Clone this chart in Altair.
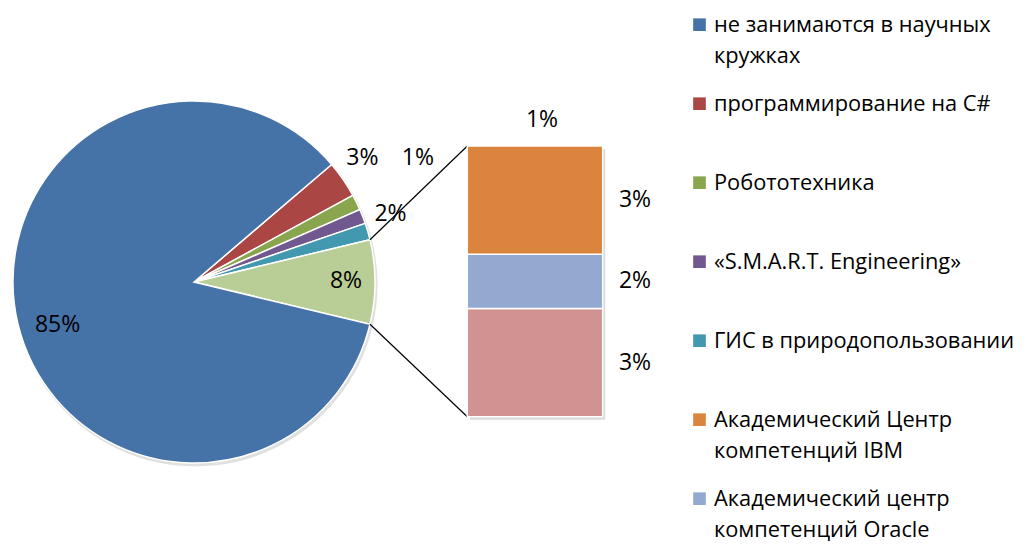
import math
import altair as alt
import pandas as pd

# ---------------- data ----------------
pie_keys = ["csharp", "robo", "smart", "gis", "other", "none"]
pie_values = [3.3, 1.4, 1.3, 1.5, 7.5, 85.0]
pie_labels = ["3%", "1%", "1%", "2%", "8%", "85%"]

bar_keys = ["pink", "oracle", "ibm"]          # bottom -> top
bar_values = [3.0, 1.5, 3.0]
bar_labels = ["3%", "2%", "3%"]

legend_keys = ["none", "csharp", "robo", "smart", "gis", "ibm", "oracle"]
legend_names = [
    "не занимаются в научных\nкружках",
    "программирование на C#",
    "Робототехника",
    "«S.M.A.R.T. Engineering»",
    "ГИС в природопользовании",
    "Академический Центр\nкомпетенций IBM",
    "Академический центр\nкомпетенций Oracle",
]

color_domain = ["none", "csharp", "robo", "smart", "gis", "ibm", "oracle", "pink", "other"]
color_range = ["#4572A7", "#AA4643", "#89A54E", "#71588F", "#4198AF",
               "#DB843D", "#93A9CF", "#D19392", "#B9CD96"]

# ---------------- layout (styling only) ----------------
W, H = 1012, 534
CX, CY, R = 186, 274, 181
label_radius = [209, 256, 0, 208, 152, 143]
label_nudge = [-1.8, -2.9, 0, -2.9, -0.5, -4.0]
BAR_X0, BAR_X1 = 459.3, 594.7
BAR_PX = [408.7, 138.0]
FONT = "Open Sans"
LABEL_SIZE = 23
LEGEND_SIZE = 21.8
LEG_STEP = 79

color = alt.Color("key:N", scale=alt.Scale(domain=color_domain, range=color_range), legend=None)

# pie rotation so that the "other" slice faces the bar
total = sum(pie_values)
oi = pie_keys.index("other")
before = sum(pie_values[:oi])
a0_deg = 90 - (before + pie_values[oi] / 2) / total * 360
a0 = math.radians(a0_deg)

pie_df = pd.DataFrame({"key": pie_keys, "value": pie_values, "ord": list(range(len(pie_keys)))})
theta_scale = alt.Scale(range=[a0, a0 + 2 * math.pi])

pie_shadow = alt.Chart(pie_df).mark_arc(outerRadius=R + 1, color="#000000", opacity=0.12).encode(
    theta=alt.Theta("value:Q", stack=True, scale=theta_scale),
    order=alt.Order("ord:Q"),
    x=alt.value(CX + 1.5),
    y=alt.value(CY + 2.5),
)

pie = alt.Chart(pie_df).mark_arc(outerRadius=R, stroke="white", strokeWidth=1.5).encode(
    theta=alt.Theta("value:Q", stack=True, scale=theta_scale),
    order=alt.Order("ord:Q"),
    color=color,
    x=alt.value(CX),
    y=alt.value(CY),
)

# pie labels positioned from slice mid-angles
rows = []
cum = 0.0
for i, (k, v, lab) in enumerate(zip(pie_keys, pie_values, pie_labels)):
    mid = a0_deg + (cum + v / 2) / total * 360
    cum += v
    if label_radius[i] == 0:
        continue
    ang = math.radians(mid + label_nudge[i])
    rows.append({"label": lab,
                 "x": CX + label_radius[i] * math.sin(ang),
                 "y": CY - label_radius[i] * math.cos(ang)})
pie_lab_df = pd.DataFrame(rows)
pie_text = alt.Chart(pie_lab_df).mark_text(font=FONT, fontSize=LABEL_SIZE, color="black",
                                           align="center", baseline="middle").encode(
    x=alt.X("x:Q", scale=None, axis=None),
    y=alt.Y("y:Q", scale=None, axis=None),
    text="label:N",
)

# bar of "other" (stack computed from the values)
bar_total = sum(bar_values)
starts, ends, mids = [], [], []
c = 0.0
for v in bar_values:
    starts.append(c)
    mids.append(c + v / 2)
    c += v
    ends.append(c)
bar_df = pd.DataFrame({"key": bar_keys, "value": bar_values, "y0": starts, "y1": ends,
                       "mid": mids, "label": bar_labels})
yscale = alt.Scale(domain=[0, bar_total], range=BAR_PX)

bar_shadow = alt.Chart(pd.DataFrame({"y0": [0.0], "y1": [bar_total]})).mark_rect(
    color="#000000", opacity=0.15).encode(
    y=alt.Y("y0:Q", scale=alt.Scale(domain=[0, bar_total], range=[BAR_PX[0] + 3, BAR_PX[1] + 3]), axis=None),
    y2="y1:Q",
    x=alt.value(BAR_X0 + 2.5),
    x2=alt.value(BAR_X1 + 2.5),
)

bar = alt.Chart(bar_df).mark_rect(stroke="white", strokeWidth=1.5).encode(
    y=alt.Y("y0:Q", scale=yscale, axis=None),
    y2="y1:Q",
    color=color,
    x=alt.value(BAR_X0),
    x2=alt.value(BAR_X1),
)
bar_text = alt.Chart(bar_df).mark_text(font=FONT, fontSize=LABEL_SIZE, color="black",
                                       align="center", baseline="middle").encode(
    y=alt.Y("mid:Q", scale=yscale, axis=None),
    x=alt.value(627),
    text="label:N",
)
smart_label = alt.Chart(pd.DataFrame({"label": [pie_labels[pie_keys.index("smart")]]})).mark_text(
    font=FONT, fontSize=LABEL_SIZE, color="black", align="center", baseline="middle").encode(
    x=alt.value(534), y=alt.value(112), text="label:N")

# connector lines from the "other" slice edges to the bar corners
s_ang = math.radians(a0_deg + before / total * 360)
e_ang = math.radians(a0_deg + (before + pie_values[oi]) / total * 360)
conn_df = pd.DataFrame({
    "x": [CX + R * math.sin(s_ang), CX + R * math.sin(e_ang)],
    "y": [CY - R * math.cos(s_ang), CY - R * math.cos(e_ang)],
    "x2": [BAR_X0, BAR_X0],
    "y2": [BAR_PX[1], BAR_PX[0]],
})
conn = alt.Chart(conn_df).mark_rule(color="black", strokeWidth=1.2).encode(
    x=alt.X("x:Q", scale=None, axis=None), y=alt.Y("y:Q", scale=None, axis=None),
    x2="x2:Q", y2="y2:Q",
)

# manual legend
leg_df = pd.DataFrame({"key": legend_keys, "name": legend_names, "row": list(range(len(legend_keys)))})
n = len(legend_keys) - 1
leg_sq = alt.Chart(leg_df).mark_square(size=160, opacity=1).encode(
    x=alt.value(691.5),
    y=alt.Y("row:Q", scale=alt.Scale(domain=[0, n], range=[16.7, 16.7 + LEG_STEP * n]), axis=None),
    color=color,
)
leg_txt = alt.Chart(leg_df).mark_text(font=FONT, fontSize=LEGEND_SIZE, color="black", align="left",
                                      baseline="alphabetic", lineBreak="\n", lineHeight=31).encode(
    x=alt.value(706),
    y=alt.Y("row:Q", scale=alt.Scale(domain=[0, n], range=[24.3, 24.3 + LEG_STEP * n]), axis=None),
    text="name:N",
)

chart = alt.layer(pie_shadow, pie, pie_text, conn, bar_shadow, bar, bar_text, smart_label,
                  leg_sq, leg_txt).resolve_scale(
    x="independent", y="independent"
).properties(
    width=W, height=H, autosize=alt.AutoSizeParams(type="none"), padding=0, background="white"
).configure_view(stroke=None)

chart.save("out.html", embed_options={"renderer": "svg", "actions": False})
